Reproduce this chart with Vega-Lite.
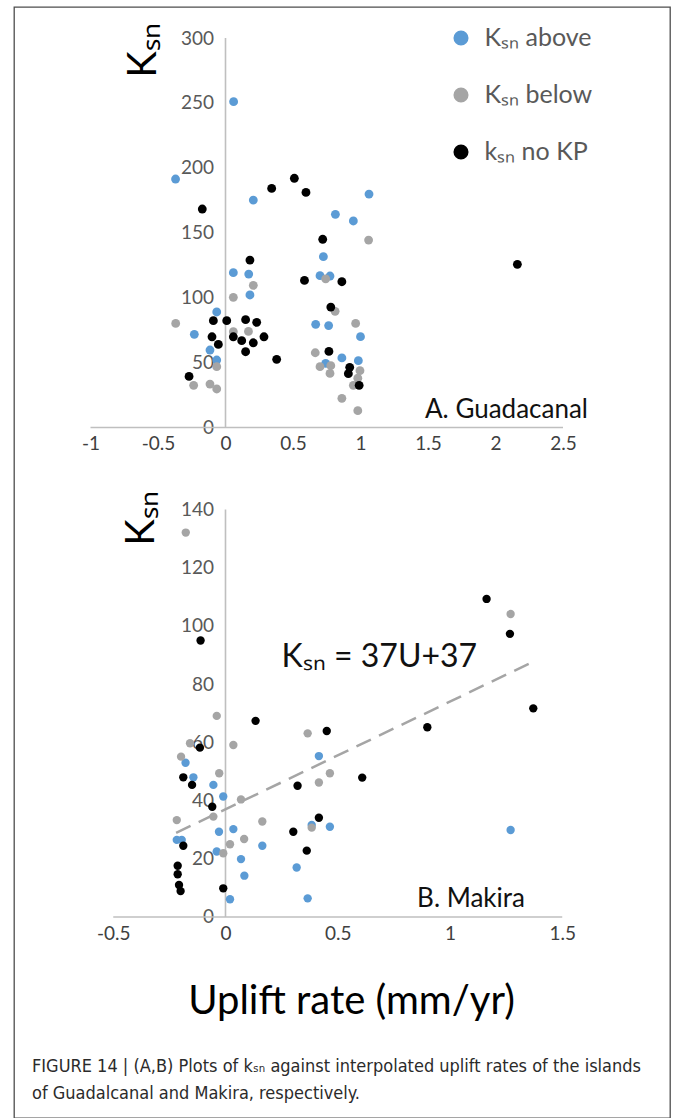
{
  "$schema": "https://vega.github.io/schema/vega-lite/v6.json",
  "width": 656,
  "height": 1111,
  "autosize": {"type": "none"},
  "padding": {"left": 14, "top": 7, "right": 3, "bottom": 0},
  "background": "white",
  "config": {
    "font": "Lato",
    "view": {"stroke": "#4d4d4d", "strokeWidth": 1.3},
    "axis": {"grid": false, "ticks": false, "tickSize": 0, "domain": false, "labelFont": "Lato", "labelFlush": false, "labelOverlap": false, "titleFont": "Lato", "titleFontWeight": "normal", "titleColor": "#000000", "labelExpr": "'' + datum.value"}
  },
  "title": {
    "text": ["FIGURE 14 | (A,B) Plots of kₛₙ against interpolated uplift rates of the islands", "of Guadalcanal and Makira, respectively."],
    "orient": "bottom",
    "anchor": "start",
    "frame": "group",
    "offset": -60,
    "dx": 18,
    "font": "Liberation Sans Narrow, Arial Narrow, DejaVu Sans Condensed, Liberation Sans",
    "fontSize": 18,
    "fontWeight": "normal",
    "color": "#2b2b2b",
    "lineHeight": 27
  },
  "datasets": {
    "axesA": [
      {"u": -1, "u2": 2.5, "k": 0, "k2": 0},
      {"u": 0, "u2": 0, "k": 0, "k2": 300}
    ],
    "axesB": [
      {"u": -0.5, "u2": 1.5, "k": 0, "k2": 0},
      {"u": 0, "u2": 0, "k": 0, "k2": 140}
    ],
    "ptsA": [
      {"series": "Kₛₙ above", "u": -0.37, "k": 191.4},
      {"series": "Kₛₙ above", "u": 0.06, "k": 251},
      {"series": "Kₛₙ above", "u": 0.206, "k": 175.2},
      {"series": "Kₛₙ above", "u": 1.063, "k": 179.8},
      {"series": "Kₛₙ above", "u": 0.814, "k": 164.2},
      {"series": "Kₛₙ above", "u": 0.947, "k": 159.1},
      {"series": "Kₛₙ above", "u": 0.725, "k": 131.6},
      {"series": "Kₛₙ above", "u": 0.058, "k": 119.3},
      {"series": "Kₛₙ above", "u": 0.172, "k": 118.2},
      {"series": "Kₛₙ above", "u": 0.7, "k": 117.0},
      {"series": "Kₛₙ above", "u": 0.774, "k": 116.7},
      {"series": "Kₛₙ above", "u": 0.181, "k": 102.1},
      {"series": "Kₛₙ above", "u": -0.065, "k": 89},
      {"series": "Kₛₙ above", "u": -0.231, "k": 71.8},
      {"series": "Kₛₙ above", "u": 0.668, "k": 79.5},
      {"series": "Kₛₙ above", "u": 0.764, "k": 78.5},
      {"series": "Kₛₙ above", "u": 1.0, "k": 70.0},
      {"series": "Kₛₙ above", "u": -0.115, "k": 59.7},
      {"series": "Kₛₙ above", "u": -0.065, "k": 52},
      {"series": "Kₛₙ above", "u": 0.862, "k": 53.6},
      {"series": "Kₛₙ above", "u": 0.984, "k": 51.5},
      {"series": "Kₛₙ above", "u": 0.742, "k": 49.4},
      {"series": "Kₛₙ below", "u": -0.369, "k": 80.2},
      {"series": "Kₛₙ below", "u": 0.058, "k": 100.3},
      {"series": "Kₛₙ below", "u": 0.206, "k": 109.5},
      {"series": "Kₛₙ below", "u": 0.058, "k": 73.8},
      {"series": "Kₛₙ below", "u": 0.17, "k": 74},
      {"series": "Kₛₙ below", "u": 0.742, "k": 114.5},
      {"series": "Kₛₙ below", "u": 0.812, "k": 89.5},
      {"series": "Kₛₙ below", "u": 0.964, "k": 80.2},
      {"series": "Kₛₙ below", "u": 0.665, "k": 57.6},
      {"series": "Kₛₙ below", "u": 0.7, "k": 46.9},
      {"series": "Kₛₙ below", "u": 0.78, "k": 47.6},
      {"series": "Kₛₙ below", "u": 0.774, "k": 41.7},
      {"series": "Kₛₙ below", "u": 0.862, "k": 22.5},
      {"series": "Kₛₙ below", "u": 0.98, "k": 13},
      {"series": "Kₛₙ below", "u": 0.947, "k": 32.5},
      {"series": "Kₛₙ below", "u": 0.996, "k": 43.8},
      {"series": "Kₛₙ below", "u": 0.98, "k": 38},
      {"series": "Kₛₙ below", "u": 1.06, "k": 144.4},
      {"series": "Kₛₙ below", "u": -0.236, "k": 32.5},
      {"series": "Kₛₙ below", "u": -0.115, "k": 33.5},
      {"series": "Kₛₙ below", "u": -0.065, "k": 29.7},
      {"series": "Kₛₙ below", "u": -0.065, "k": 46.9},
      {"series": "kₛₙ no KP", "u": -0.172, "k": 168.3},
      {"series": "kₛₙ no KP", "u": 0.342, "k": 184.2},
      {"series": "kₛₙ no KP", "u": 0.51, "k": 192},
      {"series": "kₛₙ no KP", "u": 0.596, "k": 181.1},
      {"series": "kₛₙ no KP", "u": 0.72, "k": 145},
      {"series": "kₛₙ no KP", "u": 0.181, "k": 129},
      {"series": "kₛₙ no KP", "u": 0.585, "k": 113.3},
      {"series": "kₛₙ no KP", "u": 0.862, "k": 112.3},
      {"series": "kₛₙ no KP", "u": 0.78, "k": 92.8},
      {"series": "kₛₙ no KP", "u": -0.09, "k": 82.3},
      {"series": "kₛₙ no KP", "u": 0.009, "k": 82.3},
      {"series": "kₛₙ no KP", "u": 0.149, "k": 83.1},
      {"series": "kₛₙ no KP", "u": 0.231, "k": 81},
      {"series": "kₛₙ no KP", "u": -0.1, "k": 69.9},
      {"series": "kₛₙ no KP", "u": -0.053, "k": 64},
      {"series": "kₛₙ no KP", "u": 0.058, "k": 69.9},
      {"series": "kₛₙ no KP", "u": 0.12, "k": 66.9},
      {"series": "kₛₙ no KP", "u": 0.206, "k": 65.3},
      {"series": "kₛₙ no KP", "u": 0.149, "k": 58.4},
      {"series": "kₛₙ no KP", "u": 0.285, "k": 69.9},
      {"series": "kₛₙ no KP", "u": 0.379, "k": 52.5},
      {"series": "kₛₙ no KP", "u": 0.766, "k": 58.6},
      {"series": "kₛₙ no KP", "u": 0.92, "k": 46.4},
      {"series": "kₛₙ no KP", "u": 0.91, "k": 41.5},
      {"series": "kₛₙ no KP", "u": 0.99, "k": 32.5},
      {"series": "kₛₙ no KP", "u": -0.27, "k": 39.4},
      {"series": "kₛₙ no KP", "u": 2.162, "k": 125.7}
    ],
    "ptsB": [
      {"series": "Kₛₙ above", "u": -0.178, "k": 53},
      {"series": "Kₛₙ above", "u": -0.143, "k": 48},
      {"series": "Kₛₙ above", "u": -0.054, "k": 45.4},
      {"series": "Kₛₙ above", "u": -0.01, "k": 41.4},
      {"series": "Kₛₙ above", "u": -0.217, "k": 26.5},
      {"series": "Kₛₙ above", "u": -0.195, "k": 26.5},
      {"series": "Kₛₙ above", "u": -0.029, "k": 29.3},
      {"series": "Kₛₙ above", "u": 0.035, "k": 30.2},
      {"series": "Kₛₙ above", "u": -0.039, "k": 22.5},
      {"series": "Kₛₙ above", "u": 0.069, "k": 19.9},
      {"series": "Kₛₙ above", "u": 0.084, "k": 14.2},
      {"series": "Kₛₙ above", "u": 0.164, "k": 24.5},
      {"series": "Kₛₙ above", "u": 0.02, "k": 6.1},
      {"series": "Kₛₙ above", "u": 0.317, "k": 17},
      {"series": "Kₛₙ above", "u": 0.366, "k": 6.4},
      {"series": "Kₛₙ above", "u": 0.416, "k": 55.3},
      {"series": "Kₛₙ above", "u": 0.384, "k": 31.6},
      {"series": "Kₛₙ above", "u": 0.465, "k": 31},
      {"series": "Kₛₙ above", "u": 1.27, "k": 29.9},
      {"series": "Kₛₙ below", "u": -0.177, "k": 132.1},
      {"series": "Kₛₙ below", "u": 1.27, "k": 104.1},
      {"series": "Kₛₙ below", "u": -0.039, "k": 69.1},
      {"series": "Kₛₙ below", "u": 0.035, "k": 59.1},
      {"series": "Kₛₙ below", "u": -0.158, "k": 59.7},
      {"series": "Kₛₙ below", "u": -0.198, "k": 55.1},
      {"series": "Kₛₙ below", "u": -0.028, "k": 49.4},
      {"series": "Kₛₙ below", "u": -0.217, "k": 33.3},
      {"series": "Kₛₙ below", "u": -0.054, "k": 34.5},
      {"series": "Kₛₙ below", "u": 0.069, "k": 40.4},
      {"series": "Kₛₙ below", "u": 0.164, "k": 32.8},
      {"series": "Kₛₙ below", "u": 0.02, "k": 25},
      {"series": "Kₛₙ below", "u": 0.083, "k": 26.8},
      {"series": "Kₛₙ below", "u": -0.01, "k": 21.9},
      {"series": "Kₛₙ below", "u": 0.366, "k": 63.1},
      {"series": "Kₛₙ below", "u": 0.416, "k": 46.2},
      {"series": "Kₛₙ below", "u": 0.465, "k": 49.4},
      {"series": "Kₛₙ below", "u": 0.384, "k": 30.7},
      {"series": "kₛₙ no KP", "u": -0.111, "k": 95},
      {"series": "kₛₙ no KP", "u": 0.134, "k": 67.4},
      {"series": "kₛₙ no KP", "u": -0.114, "k": 58.2},
      {"series": "kₛₙ no KP", "u": -0.188, "k": 48},
      {"series": "kₛₙ no KP", "u": -0.149, "k": 45.4},
      {"series": "kₛₙ no KP", "u": -0.059, "k": 37.9},
      {"series": "kₛₙ no KP", "u": -0.188, "k": 24.5},
      {"series": "kₛₙ no KP", "u": -0.213, "k": 17.6},
      {"series": "kₛₙ no KP", "u": -0.213, "k": 14.7},
      {"series": "kₛₙ no KP", "u": -0.207, "k": 11},
      {"series": "kₛₙ no KP", "u": -0.2, "k": 8.9},
      {"series": "kₛₙ no KP", "u": -0.01, "k": 9.85},
      {"series": "kₛₙ no KP", "u": 0.321, "k": 45.1},
      {"series": "kₛₙ no KP", "u": 0.451, "k": 63.9},
      {"series": "kₛₙ no KP", "u": 0.416, "k": 34.1},
      {"series": "kₛₙ no KP", "u": 0.302, "k": 29.3},
      {"series": "kₛₙ no KP", "u": 0.362, "k": 22.8},
      {"series": "kₛₙ no KP", "u": 0.609, "k": 47.9},
      {"series": "kₛₙ no KP", "u": 1.163, "k": 109.3},
      {"series": "kₛₙ no KP", "u": 1.267, "k": 97.3},
      {"series": "kₛₙ no KP", "u": 1.371, "k": 71.7},
      {"series": "kₛₙ no KP", "u": 0.899, "k": 65.2}
    ],
    "trendB": [
      {"u": -0.22, "k": 28.9},
      {"u": 1.37, "k": 87.7}
    ],
    "labelsA": [
      {"u": 2.685, "k": 7, "t": "A. Guadacanal"}
    ],
    "labelsB": [
      {"u": 1.334, "k": 3.4, "t": "B. Makira"}
    ],
    "eqB": [
      {"u": 0.25, "k": 85.8, "t": "Kₛₙ = 37U+37"}
    ]
  },
  "layer": [
    {
      "layer": [
        {
          "data": {"name": "axesA"},
          "mark": {"type": "rule", "color": "#BFBFBF", "strokeWidth": 1.6},
          "encoding": {
            "x": {
              "field": "u", "type": "quantitative",
              "scale": {"domain": [-1.5667, 3.2926], "nice": false, "zero": false},
              "axis": {
                "orient": "bottom", "offset": -690.5,
                "values": [-1, -0.5, 0, 0.5, 1, 1.5, 2, 2.5],
                "labelPadding": 7, "labelFontSize": 19, "labelColor": "#404040",
                "title": null
              }
            },
            "x2": {"field": "u2"},
            "y": {
              "field": "k", "type": "quantitative",
              "scale": {"domain": [-531.8, 323.9], "nice": false, "zero": false},
              "axis": {
                "orient": "left", "offset": -211.5,
                "values": [0, 50, 100, 150, 200, 250, 300],
                "labelPadding": 12, "labelFontSize": 19, "labelColor": "#595959", "labelBaseline": "middle",
                "title": "Kₛₙ", "titleAngle": 270, "titleFontSize": 40,
                "titleX": -70.5, "titleY": 43, "titleAlign": "center", "titleBaseline": "alphabetic"
              }
            },
            "y2": {"field": "k2"}
          }
        },
        {
          "data": {"name": "ptsA"},
          "mark": {"type": "circle", "size": 78, "opacity": 1},
          "encoding": {
            "x": {"field": "u", "type": "quantitative"},
            "y": {"field": "k", "type": "quantitative"},
            "color": {
              "field": "series", "type": "nominal",
              "scale": {"domain": ["Kₛₙ above", "Kₛₙ below", "kₛₙ no KP"], "range": ["#5B9BD5", "#A5A5A5", "#000000"]},
              "legend": {
                "orient": "none", "legendX": 434.5, "legendY": 18.5, "title": null,
                "symbolType": "circle", "symbolSize": 227, "symbolStrokeWidth": 0, "symbolOpacity": 1,
                "labelFontSize": 25, "labelFont": "Lato", "labelColor": "#595959",
                "rowPadding": 31, "labelOffset": 11, "padding": 0
              }
            }
          }
        },
        {
          "data": {"name": "labelsA"},
          "mark": {"type": "text", "align": "right", "baseline": "alphabetic", "fontSize": 26, "color": "#111111"},
          "encoding": {
            "x": {"field": "u", "type": "quantitative"},
            "y": {"field": "k", "type": "quantitative"},
            "text": {"field": "t"}
          }
        }
      ]
    },
    {
      "layer": [
        {
          "data": {"name": "axesB"},
          "mark": {"type": "rule", "color": "#BFBFBF", "strokeWidth": 1.6},
          "encoding": {
            "x": {
              "field": "u", "type": "quantitative",
              "scale": {"domain": [-0.9421, 1.98], "nice": false, "zero": false},
              "axis": {
                "orient": "bottom", "offset": -201,
                "values": [-0.5, 0, 0.5, 1, 1.5],
                "labelPadding": 7, "labelFontSize": 19, "labelColor": "#404040",
                "title": "Uplift rate (mm/yr)", "titleFontSize": 40,
                "titleX": 337, "titleY": 96, "titleAlign": "center", "titleBaseline": "alphabetic"
              }
            },
            "x2": {"field": "u2"},
            "y": {
              "field": "k", "type": "quantitative",
              "scale": {"domain": [-69.07, 312.7], "nice": false, "zero": false},
              "axis": {
                "orient": "left", "offset": -211.5,
                "values": [0, 20, 40, 60, 80, 100, 120, 140],
                "labelPadding": 12, "labelFontSize": 19, "labelColor": "#595959", "labelBaseline": "middle",
                "title": "Kₛₙ", "titleAngle": 270, "titleFontSize": 40,
                "titleX": -72.5, "titleY": 511, "titleAlign": "center", "titleBaseline": "alphabetic"
              }
            },
            "y2": {"field": "k2"}
          }
        },
        {
          "data": {"name": "trendB"},
          "mark": {"type": "line", "color": "#A5A5A5", "strokeWidth": 2.5, "strokeDash": [16, 9]},
          "encoding": {
            "x": {"field": "u", "type": "quantitative"},
            "y": {"field": "k", "type": "quantitative"}
          }
        },
        {
          "data": {"name": "ptsB"},
          "mark": {"type": "circle", "size": 70, "opacity": 1},
          "encoding": {
            "x": {"field": "u", "type": "quantitative"},
            "y": {"field": "k", "type": "quantitative"},
            "color": {"field": "series", "type": "nominal"}
          }
        },
        {
          "data": {"name": "eqB"},
          "mark": {"type": "text", "align": "left", "baseline": "alphabetic", "fontSize": 32, "color": "#111111"},
          "encoding": {
            "x": {"field": "u", "type": "quantitative"},
            "y": {"field": "k", "type": "quantitative"},
            "text": {"field": "t"}
          }
        },
        {
          "data": {"name": "labelsB"},
          "mark": {"type": "text", "align": "right", "baseline": "alphabetic", "fontSize": 26, "color": "#111111"},
          "encoding": {
            "x": {"field": "u", "type": "quantitative"},
            "y": {"field": "k", "type": "quantitative"},
            "text": {"field": "t"}
          }
        }
      ]
    }
  ],
  "resolve": {
    "scale": {"x": "independent", "y": "independent"},
    "axis": {"x": "independent", "y": "independent"}
  }
}
